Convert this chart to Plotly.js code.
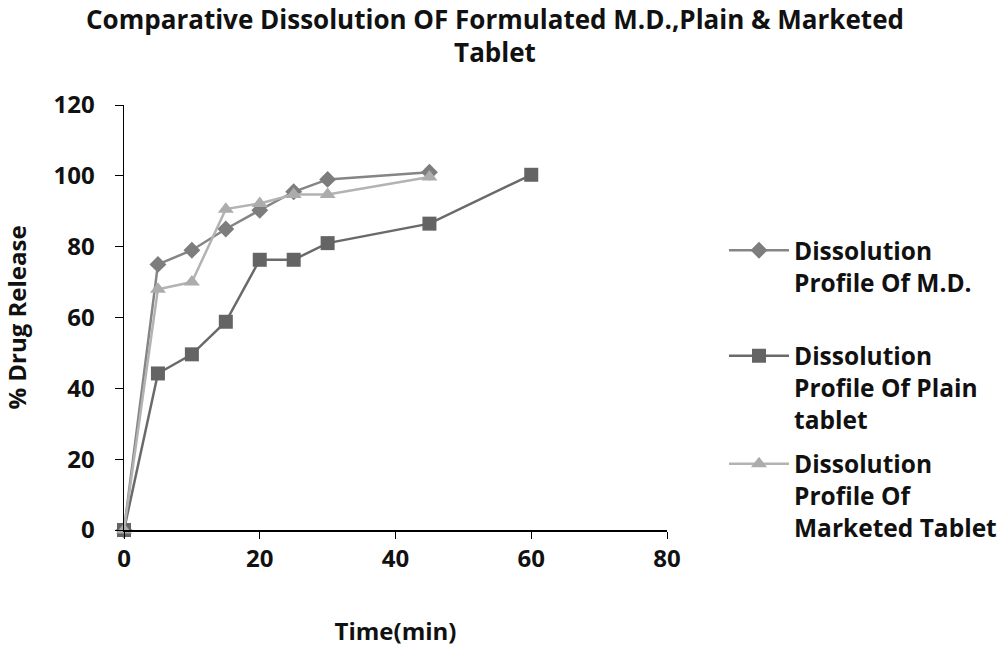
<!DOCTYPE html>
<html>
<head>
<meta charset="utf-8">
<script src="https://cdn.plot.ly/plotly-3.0.1.min.js"></script>
<style>html,body{margin:0;padding:0;background:#fff;}#chart{width:1000px;height:651px;}</style>
</head>
<body>
<div id="chart"></div>
<script>
var timeMD = [0, 5, 10, 15, 20, 25, 30, 45];
var releaseMD = [0, 75, 79, 85, 90.3, 95.5, 99, 101];

var timePlain = [0, 5, 10, 15, 20, 25, 30, 45, 60];
var releasePlain = [0, 44.2, 49.6, 58.8, 76.3, 76.3, 81, 86.5, 100.3];

var timeMarketed = [0, 5, 10, 15, 20, 25, 30, 45];
var releaseMarketed = [0, 68, 70, 90.6, 92.2, 94.7, 94.7, 99.7];

var seriesNames = [
  'Dissolution<br>Profile Of M.D.',
  'Dissolution<br>Profile Of Plain<br>tablet',
  'Dissolution<br>Profile Of<br>Marketed Tablet'
];

var xTicks = [0, 20, 40, 60, 80];
var yTicks = [0, 20, 40, 60, 80, 100, 120];

var FONT = 'Open Sans, Liberation Sans, sans-serif';
var TXT = '#111';

var traces = [
  {x: timeMD, y: releaseMD, name: seriesNames[0], legend: 'legend', mode: 'lines+markers', cliponaxis: false,
   line: {color: '#858585', width: 2.5}, marker: {symbol: 'diamond', size: 13, color: '#7d7d7d'}},
  {x: timePlain, y: releasePlain, name: seriesNames[1], legend: 'legend2', mode: 'lines+markers', cliponaxis: false,
   line: {color: '#6a6a6a', width: 2.5}, marker: {symbol: 'square', size: 14, color: '#646464'}},
  {x: timeMarketed, y: releaseMarketed, name: seriesNames[2], legend: 'legend3', mode: 'lines+markers', cliponaxis: false,
   line: {color: '#b3b3b3', width: 2.5}, marker: {symbol: 'triangle-up', size: 14, color: '#acacac'}}
];

function legendAt(yTop) {
  return {xref: 'container', yref: 'container', x: 0.724, y: yTop, xanchor: 'left', yanchor: 'top',
          valign: 'top', itemwidth: 60,
          font: {family: FONT, size: 24.5, weight: 'bold', color: TXT}, bgcolor: 'rgba(0,0,0,0)'};
}

var layout = {
  width: 1000, height: 651,
  paper_bgcolor: '#fff', plot_bgcolor: '#fff',
  margin: {l: 124, r: 333, t: 105, b: 121, autoexpand: false},
  font: {family: FONT, color: TXT, size: 20, weight: 'bold'},
  title: {text: 'Comparative Dissolution OF Formulated M.D.,Plain & Marketed<br>Tablet',
          font: {family: FONT, size: 26, weight: 'bold', color: TXT},
          x: 0.495, xanchor: 'center', yref: 'container', y: 0.956, yanchor: 'top'},
  xaxis: {range: [0, 80], tickvals: xTicks, showgrid: false, zeroline: false,
          showline: true, linecolor: '#000', linewidth: 1.5, ticks: 'outside', ticklen: 7, tickcolor: '#000',
          tickfont: {family: FONT, size: 24, weight: 'bold', color: TXT},
          title: {text: 'Time(min)', font: {family: FONT, size: 24, weight: 'bold', color: TXT}, standoff: 50}},
  yaxis: {range: [0, 120], tickvals: yTicks, showgrid: false, zeroline: false,
          showline: true, linecolor: '#000', linewidth: 1.5, ticks: 'outside', ticklen: 8, tickcolor: '#000',
          ticklabelstandoff: 15,
          tickfont: {family: FONT, size: 24, weight: 'bold', color: TXT},
          title: {text: '% Drug Release', font: {family: FONT, size: 24, weight: 'bold', color: TXT}, standoff: 29}},
  legend: legendAt(0.65),
  legend2: legendAt(0.488),
  legend3: legendAt(0.322),
  showlegend: true
};

Plotly.newPlot('chart', traces, layout, {displayModeBar: false, staticPlot: true});
</script>
</body>
</html>
